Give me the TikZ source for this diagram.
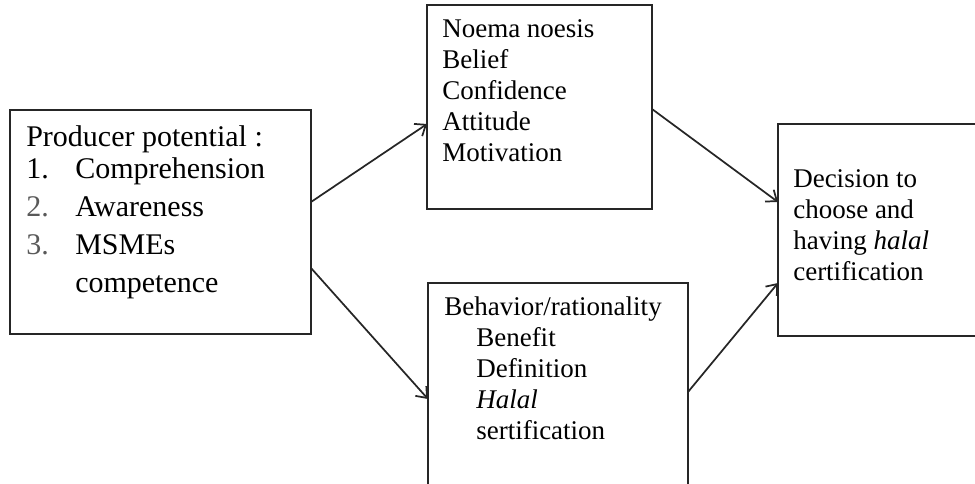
\documentclass[tikz,border=0pt]{standalone}
\usepackage{fontspec}
\setmainfont{Liberation Serif}
\usetikzlibrary{arrows.meta, calc}

\begin{document}
\begin{tikzpicture}[x=0.75pt, y=-0.75pt, >={Straight Barb[length=7pt, width=11pt]},
  box/.style={draw=black!85, line width=1.4pt, inner sep=0pt, outer sep=0pt, anchor=north west},
  txt/.style={anchor=base west, align=left, inner sep=0pt, font=\fontsize{20.25}{23.25}\selectfont},
  link/.style={->, draw=black!85, line width=1.3pt}]

  % 0. canvas
  \clip (0,0) rectangle (975,483);

  % 1. boxes
  \node[box, minimum width={0.75pt*301}, minimum height={0.75pt*224}] (prod) at (10,110) {};
  \node[box, minimum width={0.75pt*225}, minimum height={0.75pt*204}] (noema) at (427,5) {};
  \node[box, minimum width={0.75pt*260}, minimum height={0.75pt*240}] (behav) at (428,283) {};
  \node[box, minimum width={0.75pt*240}, minimum height={0.75pt*212}] (deci) at (778,124) {};

  % 2. texts (placed at the baseline of their last line)
  \node[txt, font=\fontsize{22.5}{28.5}\selectfont] (prodtxt) at (26,292) {Producer potential :\\[-4.5pt]
    \makebox[36.75pt][l]{1.}Comprehension\\
    \makebox[36.75pt][l]{\color{black!65}2.}Awareness\\
    \makebox[36.75pt][l]{\color{black!65}3.}MSMEs\\
    \hspace*{36.75pt}competence};
  \node[txt] (noematxt) at (442,161) {Noema noesis\\ Belief\\ Confidence\\ Attitude\\ Motivation};
  \node[txt] (behavtxt) at (444,439) {Behavior/rationality\\
    \hspace*{24pt}Benefit\\
    \hspace*{24pt}Definition\\
    \hspace*{24pt}\textit{Halal}\\
    \hspace*{24pt}sertification};
  \node[txt] (decitxt) at (793,280) {Decision to\\ choose and\\ having \textit{halal}\\ certification};

  % 3. arrows
  \draw[link] ($(prod.north east)+(0,92)$) -- ($(noema.north west)+(0,119)$);
  \draw[link] ($(prod.north east)+(0,158)$) -- ($(behav.north west)+(0,116)$);
  \draw[link] ($(noema.north east)+(0,104)$) -- ($(deci.north west)+(0,78)$);
  \draw[link] ($(behav.north east)+(0,109)$) -- ($(deci.north west)+(0,159)$);

\end{tikzpicture}
\end{document}
